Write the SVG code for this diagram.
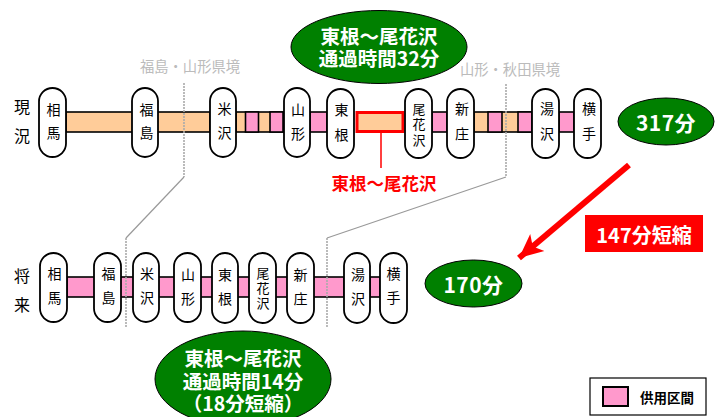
<svg xmlns="http://www.w3.org/2000/svg" width="720" height="417" viewBox="0 0 720 417">
<defs>
<style>
text{font-family:"Noto Sans CJK JP","Liberation Sans",sans-serif;text-anchor:middle}
.st{fill:#fff;stroke:#000;stroke-width:1.8}
.stt{font-size:14px;fill:#000}
.st3{font-size:13px;fill:#000}
.or{fill:#ffcc99;stroke:#000;stroke-width:1.6}
.pk{fill:#ff99cc;stroke:#000;stroke-width:1.6}
.gn{fill:#008000;stroke:#000;stroke-width:1}
.wt{fill:#fff;font-weight:700;font-size:19.500px}
.big{font-size:21px;letter-spacing:.5px}
.gr{fill:#bbb;font-size:14.300px}
.bd{fill:none;stroke:#999;stroke-width:1.2}
.ds{fill:none;stroke:#aaa;stroke-width:1.6;stroke-dasharray:2 1}
</style>
<marker id="ah" markerUnits="userSpaceOnUse" markerWidth="26" markerHeight="26" refX="24" refY="13" orient="auto"><path d="M0 2L24 13L0 24L6 13Z" fill="#f00"/></marker>
</defs>
<rect width="720" height="417" fill="#fff"/>
<g id="connectors">
<rect class="or" x="66" y="112" width="144" height="20"/>
<rect class="or" x="236" y="112" width="48" height="20"/>
<rect class="pk" x="245.500" y="112" width="13" height="20"/>
<rect class="pk" x="270" y="112" width="13" height="20"/>
<rect class="pk" x="310" y="112" width="17" height="20"/>
<rect class="pk" x="432" y="112" width="15" height="20"/>
<rect class="or" x="474" y="112" width="58" height="20"/>
<rect class="pk" x="488" y="112" width="14" height="20"/>
<rect class="pk" x="518" y="112" width="14" height="20"/>
<rect class="pk" x="559" y="112" width="15" height="20"/>
<rect x="357" y="112.500" width="46" height="19" fill="#ffcc99" stroke="#f00" stroke-width="3"/>
<path d="M381 132V168" fill="none" stroke="#f00" stroke-width="1.500"/>
<rect class="pk" x="67" y="277" width="277" height="20"/>
<rect class="pk" x="370" y="277" width="10" height="20"/>
<path class="ds" d="M184 83V177"/><path class="bd" d="M184 177L126 238"/><path class="ds" d="M126 238V328"/>
<path class="ds" d="M506 84V177"/><path class="bd" d="M506 177L327 238"/><path class="ds" d="M327 238V328"/>
<path d="M629 165L519 258" fill="none" stroke="#f00" stroke-width="6" marker-end="url(#ah)"/>
</g>
<g id="label-genjo"><text x="22" y="113" font-size="16">現</text><text x="22" y="142" font-size="16">況</text></g>
<g id="label-shorai"><text x="22" y="282" font-size="16">将</text><text x="22" y="311" font-size="16">来</text></g>
<g id="n1"><rect class="st" x="39" y="88" width="27" height="69" rx="13.500"/><text class="stt" x="53.500" y="115">相</text><text class="stt" x="53.500" y="138">馬</text></g>
<g id="n2"><rect class="st" x="132" y="88" width="26" height="69" rx="13"/><text class="stt" x="146.500" y="115">福</text><text class="stt" x="146.500" y="138">島</text></g>
<g id="n3"><rect class="st" x="210" y="88" width="26" height="69" rx="13"/><text class="stt" x="224.500" y="114">米</text><text class="stt" x="224.500" y="138">沢</text></g>
<g id="n4"><rect class="st" x="284" y="88" width="26" height="69" rx="13"/><text class="stt" x="298" y="115">山</text><text class="stt" x="298" y="139">形</text></g>
<g id="n5"><rect class="st" x="327" y="89" width="27" height="69" rx="13.500"/><text class="stt" x="341.500" y="115">東</text><text class="stt" x="341.500" y="140">根</text></g>
<g id="n6"><rect class="st" x="405" y="89" width="27" height="69" rx="13.500"/><text class="st3"><tspan x="419" y="114">尾</tspan><tspan x="419" y="129">花</tspan><tspan x="419" y="145">沢</tspan></text></g>
<g id="n7"><rect class="st" x="447" y="89" width="27" height="69" rx="13.500"/><text class="stt" x="462" y="114">新</text><text class="stt" x="462" y="139">庄</text></g>
<g id="n8"><rect class="st" x="532" y="89" width="27" height="69" rx="13.500"/><text class="stt" x="547" y="114">湯</text><text class="stt" x="547" y="139">沢</text></g>
<g id="n9"><rect class="st" x="574" y="89" width="27" height="69" rx="13.500"/><text class="stt" x="589" y="114">横</text><text class="stt" x="589" y="139">手</text></g>
<g id="s1"><rect class="st" x="40" y="253" width="27" height="69" rx="13.500"/><text class="stt" x="54.500" y="279">相</text><text class="stt" x="54.500" y="303">馬</text></g>
<g id="s2"><rect class="st" x="94" y="253" width="27" height="69" rx="13.500"/><text class="stt" x="108.500" y="279">福</text><text class="stt" x="108.500" y="303">島</text></g>
<g id="s3"><rect class="st" x="133" y="253" width="26" height="69" rx="13"/><text class="stt" x="147" y="279">米</text><text class="stt" x="147" y="303">沢</text></g>
<g id="s4"><rect class="st" x="174" y="253" width="27" height="69" rx="13.500"/><text class="stt" x="188" y="280">山</text><text class="stt" x="188" y="304">形</text></g>
<g id="s5"><rect class="st" x="212" y="253" width="26" height="70" rx="13"/><text class="stt" x="225" y="280">東</text><text class="stt" x="225" y="304">根</text></g>
<g id="s6"><rect class="st" x="249" y="253" width="27" height="70" rx="13.500"/><text class="st3"><tspan x="263" y="278">尾</tspan><tspan x="263" y="293">花</tspan><tspan x="263" y="308">沢</tspan></text></g>
<g id="s7"><rect class="st" x="287" y="253" width="27" height="70" rx="13.500"/><text class="stt" x="300.500" y="280">新</text><text class="stt" x="300.500" y="304">庄</text></g>
<g id="s8"><rect class="st" x="344" y="253" width="26" height="70" rx="13"/><text class="stt" x="358" y="280">湯</text><text class="stt" x="358" y="304">沢</text></g>
<g id="s9"><rect class="st" x="380" y="253" width="27" height="70" rx="13.500"/><text class="stt" x="393.500" y="279">横</text><text class="stt" x="393.500" y="303">手</text></g>
<g id="pref1"><text class="gr" x="190" y="72">福島・山形県境</text></g>
<g id="pref2"><text class="gr" x="510" y="75">山形・秋田県境</text></g>
<g id="e1"><ellipse class="gn" cx="379" cy="47" rx="88" ry="36.500"/><text class="wt"><tspan x="379" y="44">東根～尾花沢</tspan><tspan x="379" y="66">通過時間32分</tspan></text></g>
<g id="e2"><ellipse class="gn" cx="666" cy="121.500" rx="48" ry="23.500"/><text class="wt big" x="666" y="131">317分</text></g>
<g id="e3"><ellipse class="gn" cx="473.500" cy="283.500" rx="48.500" ry="23.500"/><text class="wt big" x="473.500" y="293">170分</text></g>
<g id="e4"><ellipse class="gn" cx="243" cy="379" rx="88" ry="48"/><text class="wt"><tspan x="243" y="366">東根～尾花沢</tspan><tspan x="243" y="389">通過時間14分</tspan><tspan x="243" y="411">（18分短縮）</tspan></text></g>
<g id="redlabel"><text x="384" y="190" font-size="17.500" font-weight="700" fill="#f00">東根～尾花沢</text></g>
<g id="saving"><rect x="585" y="215" width="118" height="37" fill="#f00"/><text class="wt" x="644" y="243" style="font-size:20px">147分短縮</text></g>
<g id="legend"><rect x="590" y="378" width="116" height="37" fill="#fff" stroke="#000" stroke-width="1.200"/><rect x="603" y="387" width="25" height="19" fill="#ff99cc" stroke="#000" stroke-width="2"/><text x="667" y="403" font-size="13.500" font-weight="700" fill="#000">供用区間</text></g>
</svg>
